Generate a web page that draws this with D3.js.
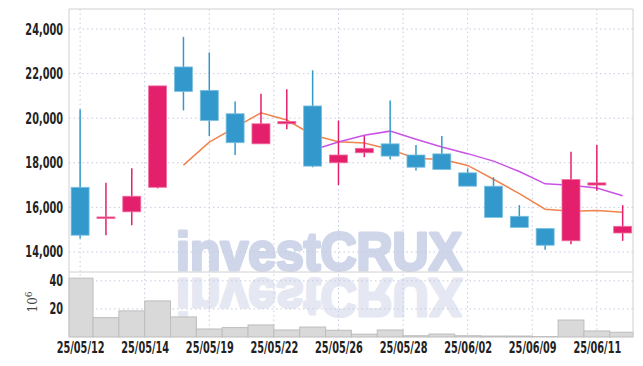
<!DOCTYPE html>
<html>
<head>
<meta charset="utf-8">
<script src="https://cdn.jsdelivr.net/npm/d3@7"></script>
<style>
  body { margin: 0; background: #fff; }
  .tick text { font-family: "DejaVu Sans", sans-serif; font-weight: bold; font-size: 15.5px; fill: #222; }
</style>
</head>
<body>
<div class="chart"></div>
<script>
// trading days
const dates = ["25/05/12","25/05/13","25/05/14","25/05/15","25/05/16","25/05/19","25/05/20","25/05/21","25/05/22","25/05/23",
  "25/05/26","25/05/27","25/05/28","25/05/29","25/05/30","25/06/02","25/06/04","25/06/05","25/06/09","25/06/10","25/06/11","25/06/12"];
const opens  = [16900,15550,15800,16900,22300,21250,20200,18850,19750,20550,18000,18450,18850,18350,18400,17550,16950,15600,15050,14500,17000,14850];
const highs  = [20400,17100,17750,21450,23650,22950,20750,21100,21300,22150,19900,19200,20800,18800,19200,17750,17350,16100,15050,18500,18800,16100];
const lows   = [14600,14750,15200,16850,20350,19200,18350,18850,19500,17800,17000,18250,18150,17650,17700,16950,15550,15100,14100,14350,16750,14500];
const closes = [14750,15570,16500,21450,21200,19900,18900,19750,19850,17850,18350,18650,18300,17800,17700,16950,15550,15100,14300,17250,17100,15150];
const ma5  = [null,null,null,null,17894,18924,19590,20240,19920,19250,18940,18890,18600,18190,18160,17880,17260,16620,15920,15830,15860,15780];
const ma10 = [null,null,null,null,null,null,null,null,null,18572,18932,19240,19420,19055,18705,18410,18075,17610,17055,16995,16870,16520];
// volume in millions
const volumes = [41.9,13.8,18.6,25.7,14.3,5.7,6.7,8.6,5.0,7.1,4.8,2.0,5.0,0.9,2.1,0.9,0.7,0.7,0.3,12.1,4.3,3.4];

const xTickIdx = [0,2.5,5,7.5,10,12.5,15,17.5,20];
const xTickLabels = ["25/05/12","25/05/14","25/05/19","25/05/22","25/05/26","25/05/28","25/06/02","25/06/09","25/06/11"];
const yTicks = [14000,16000,18000,20000,22000,24000];
const volTicks = [20,40];

let svgWidth = 643, svgHeight = 366;
const plot = {left: 69, right: 633, top: 9, mid: 272, bottom: 337};

const svg = d3.select(".chart").append("svg")
  .attr("width", svgWidth).attr("height", svgHeight);

const x = d3.scaleLinear().domain([-0.43, 21.4]).range([plot.left, plot.right]);
const y = d3.scaleLinear().domain([13100, 24900]).range([plot.mid, plot.top]);
const yv = d3.scaleLinear().domain([0, 46.3]).range([plot.bottom, plot.mid]);
const step = x(1) - x(0);

// watermark + reflection
const wm = svg.append("g")
  .style("font-family", "'Liberation Sans', Arial, sans-serif").style("font-weight", "bold").style("font-size", "54px");
wm.append("text")
  .attr("x", 176).attr("y", 270)
  .attr("textLength", 286).attr("lengthAdjust", "spacingAndGlyphs")
  .attr("fill", "#cfd6ea").attr("stroke", "#cfd6ea").attr("stroke-width", 3.2).attr("stroke-linejoin", "round")
  .text("investCRUX");
wm.append("text")
  .attr("x", 176).attr("y", -279)
  .attr("transform", "scale(1,-1)")
  .attr("textLength", 286).attr("lengthAdjust", "spacingAndGlyphs")
  .attr("fill", "#e5e8f2").attr("stroke", "#e5e8f2").attr("stroke-width", 3.2).attr("stroke-linejoin", "round")
  .text("investCRUX");

// grid
const grid = svg.append("g").attr("stroke", "#c5cbe0").attr("stroke-dasharray", "1.5,3").attr("stroke-width", 1);
grid.selectAll("line.v").data(xTickIdx).enter().append("line")
  .attr("x1", d => x(d)).attr("x2", d => x(d)).attr("y1", plot.top).attr("y2", plot.bottom);
grid.selectAll("line.h").data(yTicks).enter().append("line")
  .attr("x1", plot.left).attr("x2", plot.right).attr("y1", d => y(d)).attr("y2", d => y(d));
grid.selectAll("line.hv").data(volTicks).enter().append("line")
  .attr("x1", plot.left).attr("x2", plot.right).attr("y1", d => yv(d)).attr("y2", d => yv(d));

// volume bars
svg.append("g").selectAll("rect").data(volumes).enter().append("rect")
  .attr("x", (d, i) => Math.max(plot.left, x(i) - step / 2))
  .attr("width", (d, i) => Math.min(plot.right, x(i) + step / 2) - Math.max(plot.left, x(i) - step / 2))
  .attr("y", d => yv(d)).attr("height", d => yv(0) - yv(d))
  .attr("fill", "#d9d9d9").attr("stroke", "#bdbdbd").attr("stroke-width", 1);

// moving averages
const line = d3.line().defined(d => d != null).x((d, i) => x(i)).y(d => y(d));
svg.append("path").datum(ma5).attr("d", line).attr("fill", "none").attr("stroke", "#f0834e").attr("stroke-width", 1.5);
svg.append("path").datum(ma10).attr("d", line).attr("fill", "none").attr("stroke", "#c853e6").attr("stroke-width", 1.5);

// candles
const up = "#e4206c", down = "#3399cc";
const candles = svg.append("g").selectAll("g").data(dates).enter().append("g");
candles.append("line")
  .attr("x1", (d, i) => x(i)).attr("x2", (d, i) => x(i))
  .attr("y1", (d, i) => y(highs[i])).attr("y2", (d, i) => y(lows[i]))
  .attr("stroke", (d, i) => closes[i] >= opens[i] ? up : down).attr("stroke-width", 1.5);
candles.append("rect")
  .attr("x", (d, i) => x(i) - 9).attr("width", 18)
  .attr("y", (d, i) => y(Math.max(opens[i], closes[i])))
  .attr("height", (d, i) => Math.max(1.5, Math.abs(y(opens[i]) - y(closes[i]))))
  .attr("fill", (d, i) => closes[i] >= opens[i] ? up : down)
  .attr("stroke", (d, i) => closes[i] >= opens[i] ? "#ef6fa0" : "#7cc0e0").attr("stroke-width", 0.8);

// frame
const frame = svg.append("g").attr("stroke", "#d0d0d0").attr("fill", "none");
frame.append("line").attr("x1", plot.left).attr("x2", plot.right).attr("y1", plot.top).attr("y2", plot.top);
frame.append("line").attr("x1", plot.left).attr("x2", plot.right).attr("y1", plot.mid).attr("y2", plot.mid);
frame.append("line").attr("x1", plot.left).attr("x2", plot.left).attr("y1", plot.top).attr("y2", plot.bottom);
frame.append("line").attr("x1", plot.right).attr("x2", plot.right).attr("y1", plot.top).attr("y2", plot.bottom);

// axes -- narrow the labels horizontally (condensed look)
const sx = 0.63;
const narrowLeft = g => g.selectAll(".tick text").attr("x", -6 / sx).attr("transform", `scale(${sx},1)`);
const leftAxis = d3.axisLeft(y).tickValues(yTicks).tickFormat(d3.format(",")).tickSize(0).tickPadding(6);
svg.append("g").attr("transform", `translate(${plot.left},0)`).call(leftAxis)
  .call(g => g.select(".domain").remove()).call(narrowLeft);
const volAxis = d3.axisLeft(yv).tickValues(volTicks).tickSize(0).tickPadding(6);
svg.append("g").attr("transform", `translate(${plot.left},0)`).call(volAxis)
  .call(g => g.select(".domain").remove()).call(narrowLeft);
const bottomAxis = d3.axisBottom(x).tickValues(xTickIdx).tickFormat((d, i) => xTickLabels[i]).tickSize(0).tickPadding(5);
svg.append("g").attr("transform", `translate(0,${plot.bottom})`).call(bottomAxis)
  .call(g => g.select(".domain").remove())
  .call(g => g.selectAll(".tick text").attr("transform", `scale(${sx},1)`));

// unit label
const unit = svg.append("text").attr("transform", "translate(37,302) rotate(-90)")
  .attr("text-anchor", "middle").style("font-family", "DejaVu Serif, serif").style("font-size", "12px").attr("fill", "#444");
unit.append("tspan").text("10");
unit.append("tspan").attr("dy", -5).style("font-size", "9px").text("6");
</script>
</body>
</html>
